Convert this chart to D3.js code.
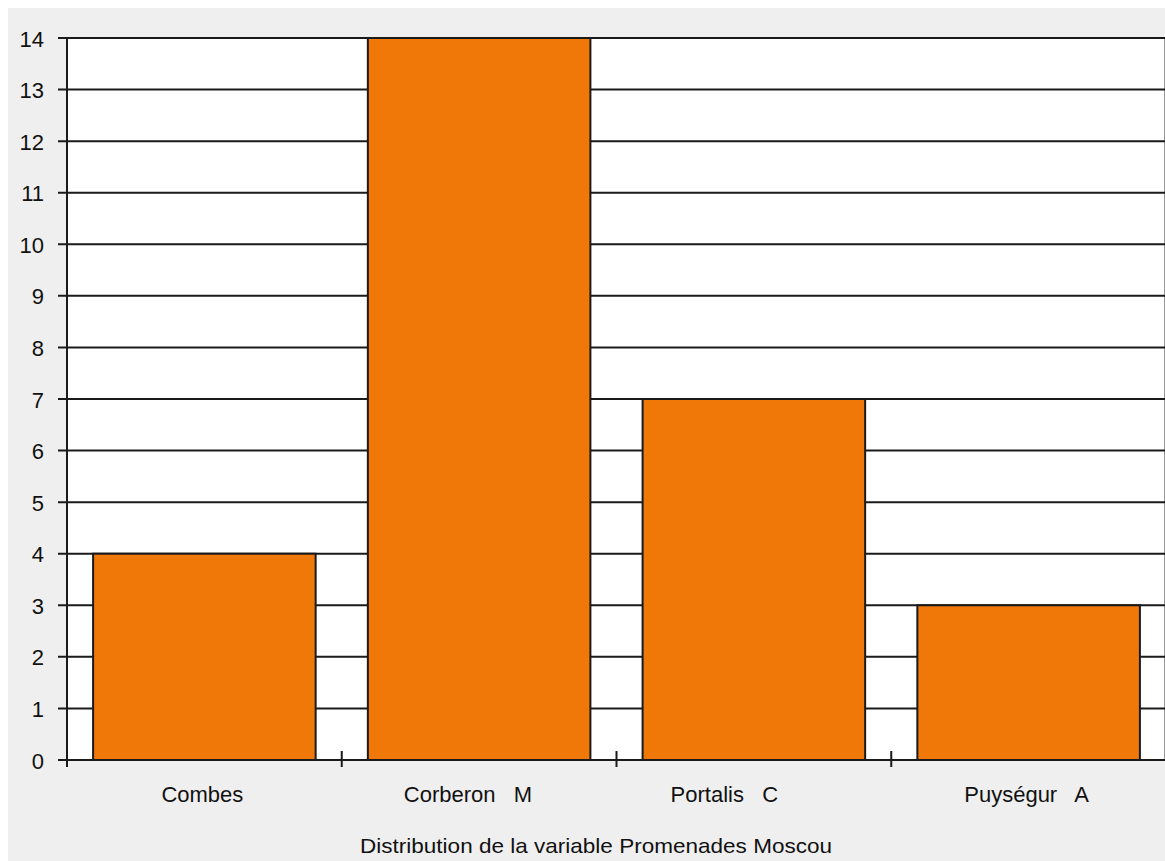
<!DOCTYPE html>
<html><head><meta charset="utf-8">
<script src="https://cdn.jsdelivr.net/npm/d3@7"></script>
<style>
html,body{margin:0;padding:0;background:#fff;}
svg{display:block;}
text{font-family:"Liberation Sans",Arial,sans-serif;fill:#111;}
</style></head>
<body>
<script>
const categories = ["Combes", "Corberon   M   ", "Portalis   C         ", "Puységur   A"];
const values = [4, 14, 7, 3];
const yTicks = [0,1,2,3,4,5,6,7,8,9,10,11,12,13,14];
const title = "Distribution de la variable Promenades Moscou";

(function () {
const W = 1165, H = 861;
const svg = d3.select("body").append("svg").attr("width", W).attr("height", H);
svg.append("rect").attr("x", 8).attr("y", 8).attr("width", W - 8).attr("height", H - 8).attr("fill", "#efefef");

const pL = 67, pR = 1166, pT = 38, pB = 760;
const x = d3.scaleBand().domain(categories).range([pL, pR]).paddingInner(0.19).paddingOuter(0.095);
const xb = d3.scaleBand().domain(categories).range([pL, pR]).padding(0);
const y = d3.scaleLinear().domain([0, 14]).range([pB, pT]);

svg.append("rect").attr("x", pL).attr("y", pT).attr("width", pR - pL).attr("height", pB - pT).attr("fill", "#fff");
svg.append("line").attr("x1", 1164.5).attr("x2", 1164.5).attr("y1", pT).attr("y2", pB).attr("stroke", "#999").attr("stroke-width", 1);

// gridlines
svg.append("g").selectAll("line").data(yTicks).join("line")
  .attr("x1", pL - 9).attr("x2", pR).attr("y1", d => y(d)).attr("y2", d => y(d))
  .attr("stroke", "#1a1a1a").attr("stroke-width", 2);

// bars
svg.append("g").selectAll("rect").data(values).join("rect")
  .attr("x", (d, i) => x(categories[i]))
  .attr("y", d => y(d))
  .attr("width", x.bandwidth())
  .attr("height", d => y(0) - y(d))
  .attr("fill", "#f07808").attr("stroke", "#1a1a1a").attr("stroke-width", 2);

// y axis
svg.append("line").attr("x1", pL).attr("x2", pL).attr("y1", pT).attr("y2", pB + 7).attr("stroke", "#1a1a1a").attr("stroke-width", 2);
svg.append("g").selectAll("text").data(yTicks).join("text")
  .attr("x", 44).attr("y", d => y(d) + 8.5).attr("text-anchor", "end")
  .attr("font-size", 22).text(d => d);

// x axis baseline & ticks
svg.append("line").attr("x1", pL - 9).attr("x2", pR).attr("y1", pB).attr("y2", pB).attr("stroke", "#1a1a1a").attr("stroke-width", 2);
svg.append("g").selectAll("line").data(categories.slice(1)).join("line")
  .attr("x1", d => xb(d)).attr("x2", d => xb(d)).attr("y1", pB - 9).attr("y2", pB + 7)
  .attr("stroke", "#1a1a1a").attr("stroke-width", 2);

svg.append("g").selectAll("text").data(categories).join("text")
  .attr("x", d => xb(d) + xb.bandwidth() / 2 - 2).attr("y", 802).attr("text-anchor", "middle")
  .attr("font-size", 22).attr("xml:space", "preserve").style("white-space", "pre").text(d => d);

svg.append("text").attr("x", 596).attr("y", 853).attr("text-anchor", "middle")
  .attr("font-size", 21).attr("textLength", 472).attr("lengthAdjust", "spacingAndGlyphs").text(title);
})();
</script>
</body></html>
